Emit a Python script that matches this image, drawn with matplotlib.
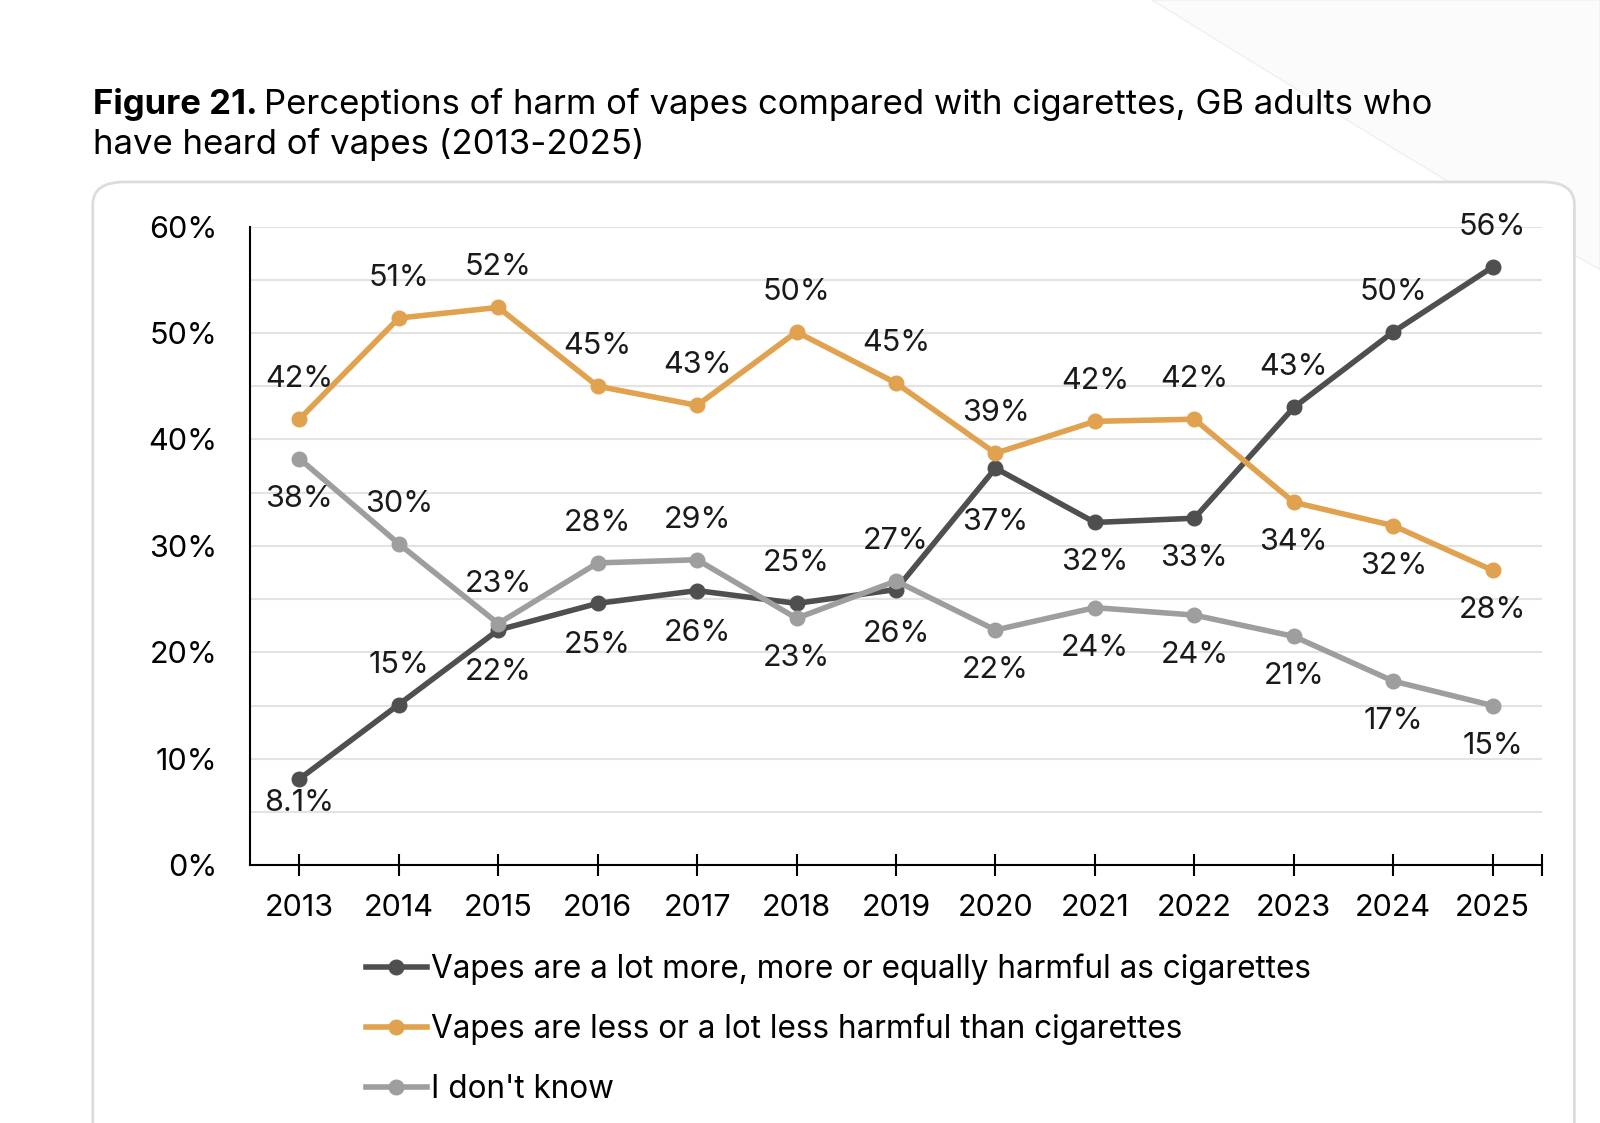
import matplotlib.pyplot as plt
from matplotlib.patches import FancyBboxPatch, PathPatch
from matplotlib.path import Path
from matplotlib.ticker import MultipleLocator, FuncFormatter

plt.rcParams['font.family'] = ['Inter', 'DejaVu Sans']

# data
years = [2013, 2014, 2015, 2016, 2017, 2018, 2019, 2020, 2021, 2022, 2023, 2024, 2025]
more_harmful = [8.1, 15.1, 22.1, 24.6, 25.8, 24.6, 25.9, 37.3, 32.2, 32.6, 43.0, 50.1, 56.2]
less_harmful = [41.9, 51.4, 52.4, 45.0, 43.2, 50.1, 45.3, 38.7, 41.7, 41.9, 34.1, 31.9, 27.7]
dont_know = [38.2, 30.2, 22.7, 28.4, 28.7, 23.2, 26.7, 22.1, 24.2, 23.5, 21.5, 17.3, 15.0]

more_labels = ['8.1%', '15%', '22%', '25%', '26%', '25%', '26%', '37%', '32%', '33%', '43%', '50%', '56%']
less_labels = ['42%', '51%', '52%', '45%', '43%', '50%', '45%', '39%', '42%', '42%', '34%', '32%', '28%']
dk_labels = ['38%', '30%', '23%', '28%', '29%', '23%', '27%', '22%', '24%', '24%', '21%', '17%', '15%']

# >0 label above point, <0 below (scale of the usual offset)
more_pos = [-0.6, 1, -1.05, -1.05, -1.05, 1, -1.1, -1.35, -1, -1, 1, 1, 1]
less_pos = [1, 1, 1, 1, 1, 1, 1, 1, 1, 1, -1, -1, -1]
dk_pos = [-1, 1, 1, 1, 1, -1, 1, -1, -1, -1, -1, -1, -1]

series_names = ['Vapes are a lot more, more or equally harmful as cigarettes',
                'Vapes are less or a lot less harmful than cigarettes',
                "I don't know"]
colors = ['#4f4f4f', '#e0a24e', '#9e9e9e']

fig = plt.figure(figsize=(16, 11.23), dpi=100)

# faint background swoosh top right
verts = [(0.72, 1.0), (0.80, 0.93), (0.90, 0.84), (1.0, 0.76), (1.0, 1.0), (0.72, 1.0)]
codes = [Path.MOVETO, Path.CURVE4, Path.CURVE4, Path.CURVE4, Path.LINETO, Path.CLOSEPOLY]
fig.patches.append(PathPatch(Path(verts, codes), transform=fig.transFigure,
                             facecolor='#fbfbfb', edgecolor='#f0f0f0', lw=1, zorder=0))

# rounded card
fig.patches.append(FancyBboxPatch((0.058, -0.05), 0.926, 0.888,
                                  boxstyle='round,pad=0,rounding_size=0.02',
                                  transform=fig.transFigure, facecolor='white',
                                  edgecolor='#dcdcdc', linewidth=2, zorder=1))

ax = fig.add_axes([0.156, 0.2295, 0.808, 0.5688])
ax.set_zorder(2)
ax.patch.set_alpha(0)

x = list(range(len(years)))
all_series = [(more_harmful, more_labels, more_pos),
              (less_harmful, less_labels, less_pos),
              (dont_know, dk_labels, dk_pos)]

for (vals, labs, pos), name, c in zip(all_series, series_names, colors):
    ax.plot(x, vals, color=c, lw=4, marker='o', ms=10.5, label=name, zorder=3)
    for xi, v, lab, p in zip(x, vals, labs, pos):
        ax.annotate(lab, (xi, v), xytext=(0, 40 * p), textcoords='offset pixels',
                    ha='center', va='center', fontsize=22, color='#1a1a1a', zorder=4)

ax.set_xlim(-0.5, 12.5)
ax.set_ylim(0, 60)
ax.yaxis.set_major_locator(MultipleLocator(10))
ax.yaxis.set_minor_locator(MultipleLocator(5))
ax.yaxis.set_major_formatter(FuncFormatter(lambda v, _: f'{v:.0f}%'))
ax.grid(axis='y', which='both', color='#e3e3e3', lw=1.5, zorder=0)
ax.set_axisbelow(True)
ax.set_xticks(x)
ax.set_xticklabels([str(y) for y in years])
ax.set_xticks([12.5], minor=True)
ax.tick_params(axis='x', which='both', direction='inout', length=16, width=1.5,
               labelsize=22, pad=13, color='black')
ax.tick_params(axis='y', which='both', length=0, labelsize=22, pad=23)
for s in ['top', 'right']:
    ax.spines[s].set_visible(False)
for s in ['left', 'bottom']:
    ax.spines[s].set_linewidth(1.5)

ax.legend(loc='upper left', bbox_to_anchor=(0.08, -0.118), frameon=False, fontsize=22.7,
          handlelength=1.95, handletextpad=0.12, labelspacing=0.92, borderaxespad=0)

# title: bold prefix followed by regular text
t1 = fig.text(0.058, 1 - 114 / 1123, 'Figure 21.', fontsize=25, fontweight='bold',
              va='baseline', ha='left')
fig.canvas.draw()
bb = t1.get_window_extent()
fig.text(bb.x1 / fig.bbox.width + 0.004, 1 - 114 / 1123,
         'Perceptions of harm of vapes compared with cigarettes, GB adults who',
         fontsize=25, va='baseline', ha='left')
fig.text(0.058, 1 - 154 / 1123, 'have heard of vapes (2013-2025)', fontsize=25,
         va='baseline', ha='left')

fig.savefig('out.png', dpi=100)
